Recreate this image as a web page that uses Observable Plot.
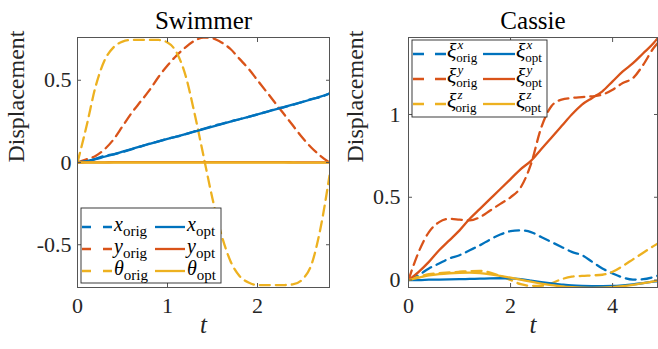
<!DOCTYPE html>
<html><head><meta charset="utf-8">
<script src="https://cdn.jsdelivr.net/npm/d3@7"></script>
<script src="https://cdn.jsdelivr.net/npm/@observablehq/plot@0.6"></script>
<style>body{margin:0;background:#fff} #wrap{display:flex;width:658px;height:349px;overflow:hidden}</style>
</head><body><div id="wrap"></div><script>
// ---------- Swimmer ----------
const tS = [0,0.1,0.2,0.3,0.4,0.5,0.6,0.7,0.8,0.9,1.0,1.1,1.2,1.3,1.4,1.5,1.6,1.7,1.8,1.9,2.0,2.1,2.2,2.3,2.4,2.5,2.6,2.7,2.8];
const sXorig = [0,0.006,0.022,0.04,0.05,0.064,0.08,0.097,0.115,0.128,0.145,0.157,0.172,0.19,0.204,0.222,0.235,0.25,0.263,0.277,0.292,0.308,0.325,0.337,0.352,0.368,0.386,0.398,0.42];
const sYorig = [0,0.02,0.04,0.08,0.14,0.22,0.30,0.37,0.44,0.52,0.59,0.65,0.70,0.74,0.76,0.755,0.73,0.69,0.63,0.57,0.50,0.43,0.36,0.29,0.22,0.15,0.09,0.04,0.0];
const sThOrig = [0,0.22,0.46,0.62,0.70,0.735,0.745,0.745,0.745,0.745,0.73,0.67,0.53,0.30,0.04,-0.22,-0.44,-0.60,-0.69,-0.73,-0.745,-0.745,-0.745,-0.745,-0.74,-0.71,-0.62,-0.40,-0.08];
const sXopt = [0,0.008,0.02,0.035,0.05,0.066,0.082,0.098,0.113,0.128,0.143,0.158,0.173,0.188,0.203,0.218,0.233,0.248,0.263,0.278,0.293,0.308,0.323,0.338,0.353,0.368,0.384,0.40,0.42];
const sYopt = [0,0.001,0.001,0.001,0.002,0.002,0.002,0.002,0.002,0.002,0.002,0.002,0.002,0.002,0.002,0.002,0.002,0.002,0.002,0.002,0.002,0.002,0.002,0.002,0.001,0.001,0.001,0.001,0.001];
const sThOpt = [0,0,0,0,0,0,0,0,0,0,0,0,0,0,0,0,0,0,0,0,0,0,0,0,0,-0.001,-0.001,-0.001,-0.001];
const sXTicks = [0,1,2];
const sYTicks = [-0.5,0,0.5];
const sNames = ["x","y","θ"];

// ---------- Cassie ----------
const tC = [0,0.2,0.4,0.6,0.8,1.0,1.2,1.4,1.6,1.8,2.0,2.2,2.4,2.6,2.8,3.0,3.2,3.4,3.6,3.8,4.0,4.2,4.4,4.6,4.8,4.88];
const cXorig = [0,0.03,0.07,0.10,0.13,0.15,0.18,0.21,0.245,0.275,0.295,0.30,0.29,0.26,0.23,0.20,0.17,0.15,0.11,0.07,0.04,0.015,0.003,0.005,0.018,0.025];
const cYorig = [0,0.17,0.29,0.35,0.37,0.365,0.36,0.38,0.42,0.46,0.50,0.56,0.70,0.92,1.05,1.09,1.10,1.105,1.11,1.12,1.15,1.19,1.22,1.30,1.40,1.43];
const cZorig = [0,0.02,0.035,0.042,0.046,0.05,0.054,0.055,0.045,0.025,0.0,-0.025,-0.035,-0.035,-0.02,0.005,0.02,0.025,0.028,0.032,0.05,0.085,0.125,0.165,0.205,0.22];
const cXopt = [0,0,0.002,0.003,0.004,0.005,0.007,0.008,0.01,0.011,0.01,0.005,-0.003,-0.012,-0.02,-0.027,-0.033,-0.036,-0.037,-0.037,-0.036,-0.032,-0.026,-0.018,-0.01,-0.007];
const cYopt = [0,0.05,0.11,0.18,0.24,0.30,0.37,0.43,0.49,0.55,0.61,0.67,0.72,0.79,0.86,0.93,1.00,1.06,1.10,1.14,1.20,1.26,1.31,1.37,1.43,1.46];
const cZopt = [0,0.015,0.028,0.036,0.041,0.044,0.045,0.042,0.035,0.025,0.014,0.002,-0.01,-0.021,-0.031,-0.038,-0.043,-0.046,-0.047,-0.046,-0.043,-0.037,-0.029,-0.019,-0.008,-0.004];
const cXTicks = [0,2,4];
const cYTicks = [0,0.5,1];
const cSups = ["x","y","z"];

const colors = ["#0072BD","#D95319","#EDB120"];
const DASH = "10,6";
const FONT = "'Liberation Serif', serif";

function rows(t, v){ return t.map((d,i)=>({t:d, v:v[i]})); }

function panel(o){
  const lines = [];
  o.orig.forEach((arr,i)=>lines.push(Plot.line(rows(o.t,arr),{x:"t",y:"v",stroke:colors[i],strokeWidth:2.3,strokeDasharray:DASH,curve:"monotone-x",clip:true})));
  o.opt.forEach((arr,i)=>lines.push(Plot.line(rows(o.t,arr),{x:"t",y:"v",stroke:colors[i],strokeWidth:2.3,curve:"monotone-x",clip:true})));
  return Plot.plot({
    width:o.width, height:349, marginLeft:o.marginLeft, marginRight:1, marginTop:37, marginBottom:62,
    x:{domain:o.xDomain}, y:{domain:o.yDomain},
    style:{fontFamily:FONT, background:"#fff", color:"#262626", overflow:"visible"},
    marks:[
      ...lines,
      Plot.frame({stroke:"#555"}),
      Plot.axisX(o.xTicks,{anchor:"bottom",tickSize:0,tickPadding:10,fontSize:22,label:null,tickFormat:d=>String(d)}),
      Plot.axisX(o.xTicks,{anchor:"bottom",tickSize:-4,tickFormat:()=>"",label:null,stroke:"#555"}),
      Plot.axisX(o.xTicks,{anchor:"top",tickSize:-4,tickFormat:()=>"",label:null,stroke:"#555"}),
      Plot.axisY(o.yTicks,{anchor:"left",tickSize:0,tickPadding:o.yPad,fontSize:22,label:null,tickFormat:d=>String(d)}),
      Plot.axisY(o.yTicks,{anchor:"left",tickSize:-4,tickFormat:()=>"",label:null,stroke:"#555"}),
      Plot.axisY(o.yTicks,{anchor:"right",tickSize:-4,tickFormat:()=>"",label:null,stroke:"#555"}),
      Plot.text([o.title],{text:d=>d,frameAnchor:"top",dy:-26,fontSize:25,fill:"#000"}),
      Plot.text(["Displacement"],{text:d=>d,frameAnchor:"left",rotate:-90,dx:o.labelDx,fontSize:24,fill:"#262626"}),
      Plot.text(["t"],{text:d=>d,frameAnchor:"bottom",dy:45,fontSize:25,fontStyle:"italic",fill:"#262626"})
    ]
  });
}

function label(g, x, y, main, sup, sub, c){
  const t = g.append("text").attr("x",x).attr("y",y).attr("text-anchor","start")
    .style("text-anchor","start").style("fill","#000").style("font-family",FONT);
  t.append("tspan").style("font-style","italic").style("font-size",c.mainSize+"px").text(main);
  if (sup){
    t.append("tspan").style("font-style","italic").style("font-size",c.subSize+"px").attr("dx",1).attr("dy",-9).text(sup);
    t.append("tspan").style("font-style","normal").style("font-size",c.subSize+"px").attr("dx",-7).attr("dy",13).text(sub);
  } else {
    t.append("tspan").style("font-style","normal").style("font-size",c.subSize+"px").attr("dy",5).text(sub);
  }
}

function legend(svg, c){
  const g = d3.select(svg).append("g").attr("text-anchor","start");
  g.append("rect").attr("x",c.x).attr("y",c.y).attr("width",c.w).attr("height",c.h)
    .attr("fill","#fff").attr("stroke","#262626").attr("stroke-width",0.9);
  c.names.forEach((nm,i)=>{
    const yy = c.rowY[i];
    g.append("line").attr("x1",c.c1[0]).attr("x2",c.c1[1]).attr("y1",yy).attr("y2",yy)
      .attr("stroke",colors[i]).attr("stroke-width",2.3).attr("stroke-dasharray",c.dash);
    label(g, c.c1[2], yy+c.base, c.sup ? "ξ" : nm, c.sup ? nm : null, "orig", c);
    g.append("line").attr("x1",c.c2[0]).attr("x2",c.c2[1]).attr("y1",yy).attr("y2",yy)
      .attr("stroke",colors[i]).attr("stroke-width",2.3);
    label(g, c.c2[2], yy+c.base, c.sup ? "ξ" : nm, c.sup ? nm : null, "opt", c);
  });
}

const wrap = document.getElementById("wrap");
const p1 = panel({width:330, marginLeft:77, xDomain:[0,2.8], yDomain:[-0.76,0.76], xTicks:sXTicks, yTicks:sYTicks,
  title:"Swimmer", labelDx:-61, yPad:6, t:tS, orig:[sXorig,sYorig,sThOrig], opt:[sXopt,sYopt,sThOpt]});
const p2 = panel({width:328, marginLeft:78, xDomain:[0,4.88], yDomain:[-0.045,1.465], xTicks:cXTicks, yTicks:cYTicks,
  title:"Cassie", labelDx:-53, yPad:8, t:tC, orig:[cXorig,cYorig,cZorig], opt:[cXopt,cYopt,cZopt]});
wrap.appendChild(p1); wrap.appendChild(p2);

legend(p1, {x:81,y:208,w:140,h:75,rowY:[227,249,271],c1:[82,112,114],c2:[155,185,187],dash:"9,12",names:sNames,sup:false,base:4,mainSize:20,subSize:15});
legend(p2, {x:82,y:40,w:135,h:77,rowY:[54,79,104],c1:[83,116,117],c2:[153,185,186],dash:"11,11",names:cSups,sup:true,base:4,mainSize:22,subSize:13});
</script></body></html>
